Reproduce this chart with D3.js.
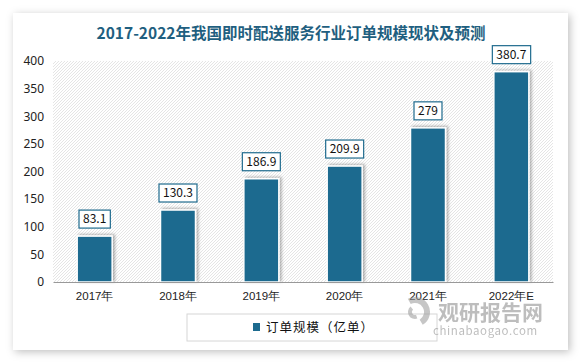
<!DOCTYPE html>
<html><head><meta charset="utf-8">
<script src="https://cdn.jsdelivr.net/npm/d3@7/dist/d3.min.js"></script>
<style>body{margin:0;background:#fff;}svg{display:block;font-family:"Microsoft YaHei","Noto Sans CJK SC",sans-serif;}</style>
</head><body>
<svg id="c" width="583" height="364"></svg>
<script>
const title = "2017-2022年我国即时配送服务行业订单规模现状及预测";
const categories = ["2017年","2018年","2019年","2020年","2021年","2022年E"];
const values = [83.1,130.3,186.9,209.9,279,380.7];
const valueLabels = ["83.1","130.3","186.9","209.9","279","380.7"];
const yTicks = [0,50,100,150,200,250,300,350,400];
const seriesName = "订单规模（亿单）";

const svg = d3.select("#c");
const defs = svg.append("defs");
const f = defs.append("filter").attr("id","card").attr("x","-10%").attr("y","-10%").attr("width","120%").attr("height","120%");
f.append("feDropShadow").attr("dx",2).attr("dy",2).attr("stdDeviation",4).attr("flood-color","#000").attr("flood-opacity",0.25);
const fb = defs.append("filter").attr("id","bs").attr("x","-30%").attr("y","-10%").attr("width","160%").attr("height","120%");
fb.append("feDropShadow").attr("dx",2).attr("dy",-1).attr("stdDeviation",1.5).attr("flood-color","#000").attr("flood-opacity",0.3);
const pat = defs.append("pattern").attr("id","hatch").attr("patternUnits","userSpaceOnUse").attr("width",3).attr("height",3);
pat.append("rect").attr("width",3).attr("height",3).attr("fill","#fff");
pat.append("path").attr("d","M-1,1 l2,-2 M0,3 l3,-3 M2,4 l2,-2").attr("stroke","#dadada").attr("stroke-width",0.7);

svg.append("rect").attr("x",13).attr("y",13).attr("width",555).attr("height",337).attr("fill","#fff").attr("filter","url(#card)");

svg.append("text").attr("x",291).attr("y",39).attr("text-anchor","middle").attr("font-size",15.5).attr("font-weight","bold").attr("fill","#1f5f80").text(title);

const m = {l:53, r:553, t:61, b:282};
const x = d3.scaleBand().domain(categories).range([m.l,m.r]).paddingInner(0.58).paddingOuter(0.29);
const y = d3.scaleLinear().domain([0,400]).range([m.b,m.t]);

svg.append("rect").attr("x",m.l).attr("y",m.t).attr("width",m.r-m.l).attr("height",m.b-m.t).attr("fill","url(#hatch)");

const data = categories.map((c,i)=>({c,v:values[i],l:valueLabels[i]}));
svg.append("g").selectAll("rect").data(data).join("rect")
  .attr("x",d=>x(d.c)).attr("y",d=>y(d.v)).attr("width",x.bandwidth()).attr("height",d=>y(0)-y(d.v))
  .attr("fill","#1d6b8f").attr("stroke","#fff").attr("stroke-width",1.5).attr("filter","url(#bs)");

// axis
const yAxis = d3.axisLeft(y).tickValues(yTicks).tickSize(0).tickPadding(9);
const ga = svg.append("g").attr("transform",`translate(${m.l},0)`).call(yAxis);
ga.select(".domain").remove();
ga.selectAll("text").attr("font-size",12).attr("fill","#222").attr("font-family","'Microsoft YaHei','Noto Sans',sans-serif");

const xAxis = d3.axisBottom(x).tickSize(0).tickPadding(10);
const gx = svg.append("g").attr("transform",`translate(0,${m.b})`).call(xAxis);
gx.select(".domain").attr("stroke","#999").attr("stroke-width",1.2);
gx.selectAll("text").attr("font-size",11.5).attr("fill","#222");

// labels
const lg = svg.append("g").selectAll("g").data(data).join("g")
  .attr("transform",d=>`translate(${x(d.c)+x.bandwidth()/2},${y(d.v)-17})`);
lg.append("text").attr("text-anchor","middle").attr("dy","0.35em").attr("font-size",12).attr("fill","#111").text(d=>d.l)
  .each(function(){
    const bb=this.getBBox();
    d3.select(this.parentNode).insert("rect","text").attr("x",bb.x-4).attr("y",-9).attr("width",bb.width+8).attr("height",18)
      .attr("fill","#fff").attr("stroke","#1f6b8e").attr("stroke-width",1.2);
  });

// legend
svg.append("rect").attr("x",187).attr("y",314).attr("width",250).attr("height",27).attr("fill","#fff").attr("stroke","#d6d6d6");
svg.append("rect").attr("x",253).attr("y",323).attr("width",7).attr("height",8).attr("fill","#1d6b8f");
svg.append("text").attr("x",266).attr("y",332).attr("font-size",12.5).attr("fill","#111").attr("letter-spacing",1).text(seriesName);

// watermark
const wm = svg.append("g").attr("opacity",0.55);
const lc = {x:415,y:312};
wm.append("path").attr("d",d3.arc().innerRadius(9).outerRadius(15).startAngle(-0.5).endAngle(2.6)()).attr("transform",`translate(${lc.x},${lc.y})`).attr("fill","#999");
wm.append("path").attr("d",d3.arc().innerRadius(3).outerRadius(7).startAngle(2.8).endAngle(5.6)()).attr("transform",`translate(${lc.x},${lc.y})`).attr("fill","#999");
wm.append("text").attr("x",438).attr("y",320).attr("font-size",21).attr("font-weight","bold").attr("fill","#888").text("观研报告网");
wm.append("text").attr("x",433).attr("y",335).attr("font-size",11.5).attr("fill","#888").attr("letter-spacing",0.6).text("chinabaogao.com");
</script>
</body></html>
